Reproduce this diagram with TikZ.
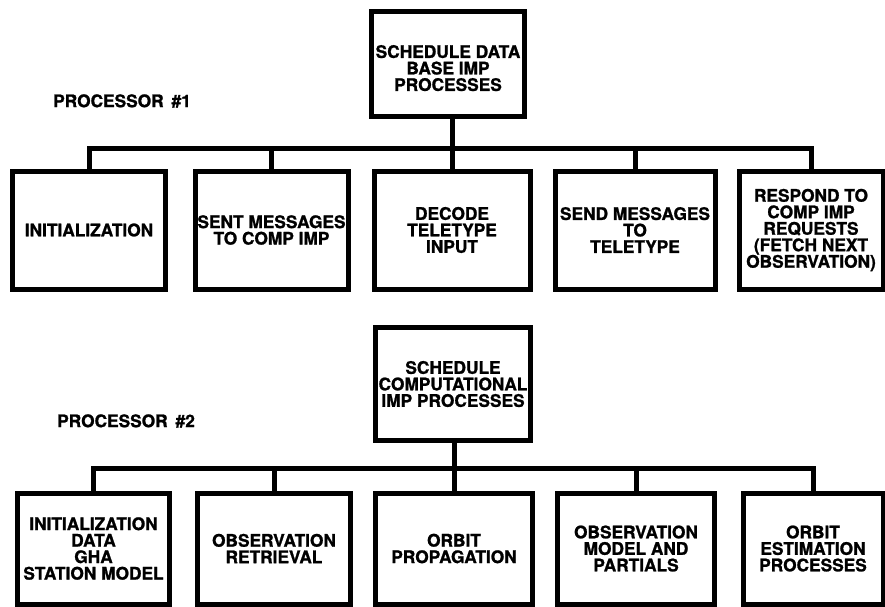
\documentclass[tikz,border=0pt]{standalone}
\usepackage{fontspec}
\setmainfont{TeX Gyre Heros}[BoldFeatures={FakeBold=1.2}]
\begin{document}
\begin{tikzpicture}[x=1pt,y=1pt,
  every node/.style={font=\bfseries\fontsize{17.3}{16.5}\selectfont},
  box/.style={draw, line width=5pt, rectangle, align=center, inner sep=1pt},
  conn/.style={draw, line width=5pt, line join=miter},
  lbl/.style={anchor=west, inner sep=0pt}]
\fill[white] (0,0) rectangle (885,-606);
\useasboundingbox (0,0) rectangle (885,-606);
% Processor 1
\node[box, minimum width=153pt, minimum height=105pt, text height=55pt] (top1) at (448,-63.5) {SCHEDULE DATA\\BASE IMP\\PROCESSES};
\node[lbl] (p1) at (53,-101) {PROCESSOR\hspace{8pt}\#1};
\node[box, minimum width=153pt, minimum height=118pt] (b1) at (89,-230) {INITIALIZATION};
\node[box, minimum width=153pt, minimum height=118pt] (b2) at (271.5,-230) {SENT MESSAGES\\TO COMP IMP};
\node[box, minimum width=156pt, minimum height=118pt] (b3) at (452,-230) {DECODE\\TELETYPE\\INPUT};
\node[box, minimum width=160pt, minimum height=118pt] (b4) at (635,-230) {SEND MESSAGES\\TO\\TELETYPE};
\node[box, minimum width=144pt, minimum height=118pt] (b5) at (811,-230) {RESPOND TO\\COMP IMP\\REQUESTS\\(FETCH NEXT\\OBSERVATION)};
\coordinate (bus1) at (452,-148.5);
\draw[conn] (b1.north) |- (bus1 -| b5.north) -- (b5.north);
\draw[conn] (b3.north |- top1.south) -- (b3.north);
\draw[conn] (b2.north) -- (b2.north |- bus1);
\draw[conn] (b4.north) -- (b4.north |- bus1);
% Processor 2
\node[box, minimum width=155pt, minimum height=113pt] (top2) at (453,-384) {SCHEDULE\\COMPUTATIONAL\\IMP PROCESSES};
\node[lbl] (p2) at (57,-421) {PROCESSOR\hspace{8pt}\#2};
\node[box, minimum width=152pt, minimum height=111pt] (c1) at (93.5,-548.5) {INITIALIZATION\\DATA\\GHA\\STATION MODEL};
\node[box, minimum width=153pt, minimum height=111pt] (c2) at (274,-548.5) {OBSERVATION\\RETRIEVAL};
\node[box, minimum width=157pt, minimum height=111pt] (c3) at (454,-548.5) {ORBIT\\PROPAGATION};
\node[box, minimum width=157pt, minimum height=111pt] (c4) at (636,-548.5) {OBSERVATION\\MODEL AND\\PARTIALS};
\node[box, minimum width=140pt, minimum height=111pt] (c5) at (813,-548.5) {ORBIT\\ESTIMATION\\PROCESSES};
\coordinate (bus2) at (454,-468.5);
\draw[conn] (c1.north) |- (bus2 -| c5.north) -- (c5.north);
\draw[conn] (c3.north |- top2.south) -- (c3.north);
\draw[conn] (c2.north) -- (c2.north |- bus2);
\draw[conn] (c4.north) -- (c4.north |- bus2);
\end{tikzpicture}
\end{document}
